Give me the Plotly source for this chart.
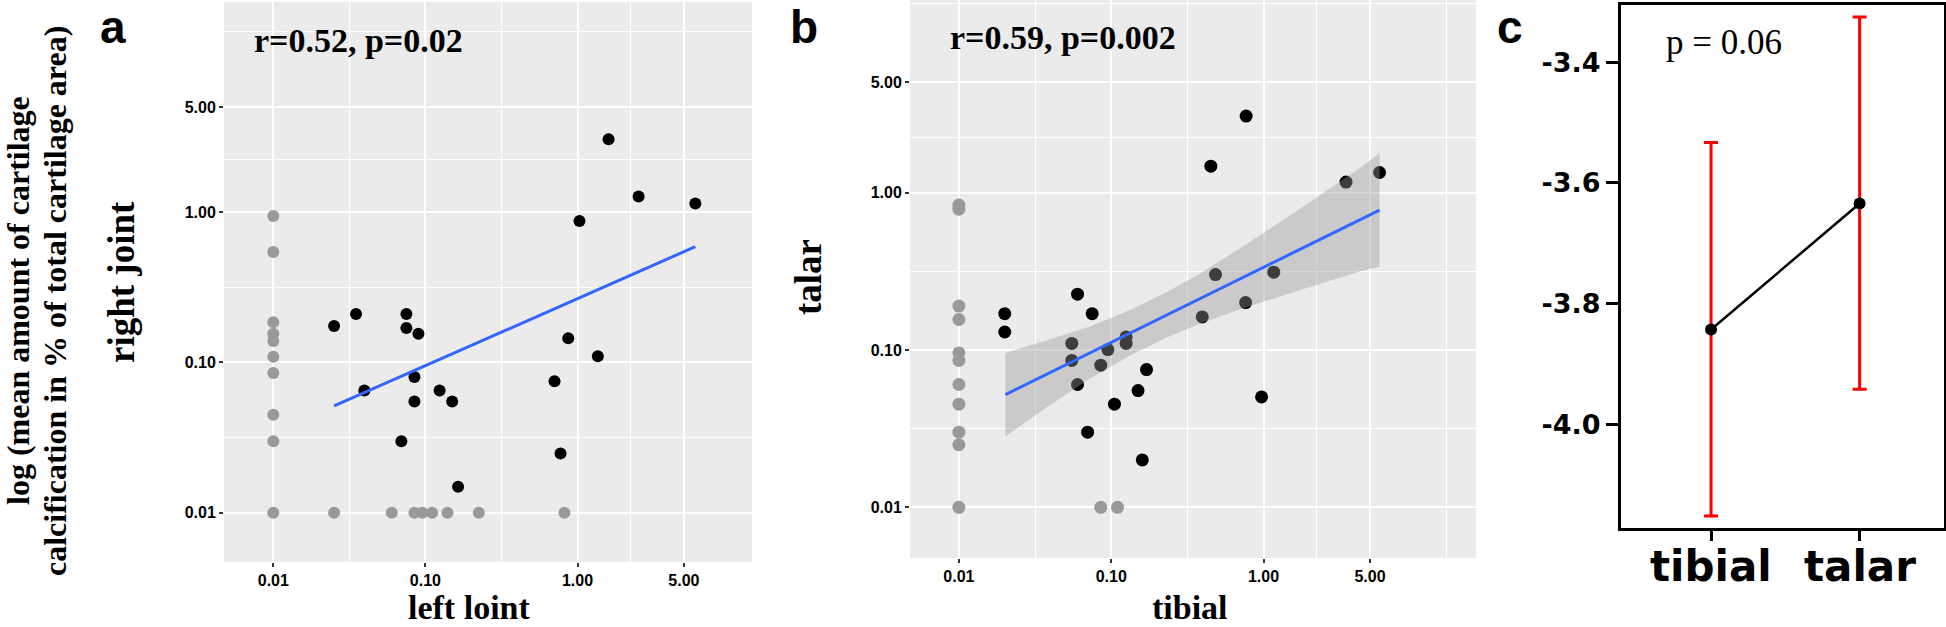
import plotly.graph_objects as go

W, H = 1946, 627

# panel a : left joint vs right joint
a_black_x = [1.60, 2.52, 5.95, 1.03, 0.0251, 0.035, 0.075, 0.075, 0.090, 0.869,
             1.36, 0.0847, 0.0397, 0.124, 0.0847, 0.150, 0.706, 0.0695, 0.773, 0.164]
a_black_y = [3.05, 1.27, 1.14, 0.873, 0.1746, 0.21, 0.21, 0.1695, 0.155, 0.145,
             0.11, 0.080, 0.065, 0.065, 0.055, 0.055, 0.0748, 0.0299, 0.0248, 0.0149]
a_gray_x = [0.01, 0.01, 0.01, 0.01, 0.01, 0.01, 0.01, 0.01, 0.01, 0.01,
            0.0251, 0.0601, 0.0847, 0.0955, 0.1107, 0.1396, 0.2244, 0.82]
a_gray_y = [0.942, 0.543, 0.185, 0.155, 0.139, 0.109, 0.085, 0.0449, 0.0299, 0.01,
            0.01, 0.01, 0.01, 0.01, 0.01, 0.01, 0.01, 0.01]
a_fit_x = [0.0251, 5.95]
a_fit_y = [0.0513, 0.589]

# panel b : tibial vs talar
b_black_x = [0.769, 0.451, 3.48, 5.78, 0.484, 1.167, 0.763, 0.396, 0.0601, 0.075,
             0.020, 0.020, 0.0551, 0.1253, 0.1253, 0.0551, 0.0951, 0.0854, 0.1706,
             0.0601, 0.150, 0.105, 0.971, 0.070, 0.160]
b_black_y = [3.06, 1.47, 1.164, 1.34, 0.301, 0.312, 0.200, 0.162, 0.226, 0.170,
             0.170, 0.130, 0.110, 0.121, 0.110, 0.0857, 0.1005, 0.080, 0.075,
             0.0603, 0.0552, 0.0452, 0.0503, 0.030, 0.020]
b_gray_x = [0.01, 0.01, 0.01, 0.01, 0.01, 0.01, 0.01, 0.01, 0.01, 0.01, 0.01, 0.0854, 0.110]
b_gray_y = [0.832, 0.784, 0.190, 0.156, 0.0957, 0.0857, 0.0603, 0.0452, 0.030, 0.025, 0.01, 0.01, 0.01]
b_fit_x = [0.0202, 5.78]
b_fit_y = [0.052, 0.773]
b_band_x = [0.0202, 0.0378, 0.0726, 0.133, 0.232, 0.384, 0.778, 1.66, 4.32, 5.78]
b_band_hi = [0.0957, 0.115, 0.141, 0.179, 0.233, 0.306, 0.472, 0.766, 1.436, 1.79]
b_band_lo = [0.0282, 0.0433, 0.0658, 0.092, 0.12, 0.147, 0.187, 0.237, 0.316, 0.337]

# panel c : means with error bars
c_cats = ["tibial", "talar"]
c_mean = [-3.843, -3.634]
c_upper = [-3.533, -3.325]
c_lower = [-4.152, -3.942]

log_ticks = [0.01, 0.1, 1, 5]
log_ticktext = ["0.01", "0.10", "1.00", "5.00"]
log_minor = [0.0316, 0.316, 2.236, 15.81]
c_ticks = [-3.4, -3.6, -3.8, -4.0]


def px(x):
    return x / W


def py(y):
    return 1 - y / H


fig = go.Figure()

fig.add_trace(go.Scatter(x=a_gray_x, y=a_gray_y, mode="markers", xaxis="x", yaxis="y",
                         marker=dict(color="#999999", size=12)))
fig.add_trace(go.Scatter(x=a_black_x, y=a_black_y, mode="markers", xaxis="x", yaxis="y",
                         marker=dict(color="black", size=12)))
fig.add_trace(go.Scatter(x=a_fit_x, y=a_fit_y, mode="lines", xaxis="x", yaxis="y",
                         line=dict(color="#3366FF", width=3)))

fig.add_trace(go.Scatter(x=b_gray_x, y=b_gray_y, mode="markers", xaxis="x2", yaxis="y2",
                         marker=dict(color="#999999", size=13)))
fig.add_trace(go.Scatter(x=b_black_x, y=b_black_y, mode="markers", xaxis="x2", yaxis="y2",
                         marker=dict(color="black", size=13)))
fig.add_trace(go.Scatter(x=b_band_x + b_band_x[::-1], y=b_band_hi + b_band_lo[::-1],
                         mode="lines", fill="toself", xaxis="x2", yaxis="y2",
                         fillcolor="rgba(153,153,153,0.4)", line=dict(width=0)))
fig.add_trace(go.Scatter(x=b_fit_x, y=b_fit_y, mode="lines", xaxis="x2", yaxis="y2",
                         line=dict(color="#3366FF", width=3)))

err_plus = [u - m for u, m in zip(c_upper, c_mean)]
err_minus = [m - l for m, l in zip(c_mean, c_lower)]
fig.add_trace(go.Scatter(x=c_cats, y=c_mean, mode="lines+markers", xaxis="x3", yaxis="y3",
                         line=dict(color="black", width=2.5),
                         marker=dict(color="black", size=12),
                         error_y=dict(type="data", symmetric=False, array=err_plus,
                                      arrayminus=err_minus, color="red",
                                      thickness=3, width=7)))

tick_font = dict(family="Liberation Sans", size=16, color="black", weight="bold")


def log_axis(domain, rng, anchor):
    return dict(type="log", domain=domain, range=rng, anchor=anchor,
                tickvals=log_ticks, ticktext=log_ticktext, tickfont=tick_font,
                showgrid=True, gridcolor="white", gridwidth=2,
                minor=dict(tickvals=log_minor, showgrid=True, gridcolor="white",
                           gridwidth=1, ticks=""),
                ticks="outside", ticklen=4, tickwidth=1.5, tickcolor="#333333",
                showline=False, zeroline=False)


layout_axes = dict(
    xaxis=log_axis([px(224), px(752)], [-2.324, 1.147], "y"),
    yaxis=log_axis([py(562), py(2)], [-2.328, 1.398], "x"),
    xaxis2=log_axis([px(910), px(1476)], [-2.321, 1.395], "y2"),
    yaxis2=log_axis([py(558), 1.0], [-2.322, 1.223], "x2"),
    # category labels are drawn as annotations below so they can sit closer to the box
    xaxis3=dict(domain=[px(1621), px(1944)], range=[-0.606, 1.568], anchor="y3",
                type="category", showgrid=False, zeroline=False, showticklabels=False,
                showline=True, mirror=True, linecolor="black", linewidth=3,
                ticks="outside", ticklen=10, tickwidth=3, tickcolor="black"),
    yaxis3=dict(domain=[py(528), py(5)], range=[-4.172, -3.305], anchor="x3",
                tickvals=c_ticks, ticktext=["-3.4", "-3.6", "-3.8", "-4.0"],
                showgrid=False, zeroline=False,
                showline=True, mirror=True, linecolor="black", linewidth=3,
                ticks="outside", ticklen=12, tickwidth=3, tickcolor="black",
                tickfont=dict(family="DejaVu Sans", size=27, color="black", weight="bold")),
)

serif_b = dict(family="Liberation Serif", color="black", weight="bold")
sans_b = dict(family="Liberation Sans", color="black", weight="bold")
dejavu_b = dict(family="DejaVu Sans", color="black", weight="bold")


def note(text, x, y, size, font, angle=0, xref="paper"):
    return dict(text=text, x=px(x) if xref == "paper" else x, y=py(y),
                xref=xref, yref="paper",
                xanchor="center", yanchor="middle", showarrow=False,
                textangle=angle, font=dict(size=size, **font))


annotations = [
    note("a", 113, 27, 46, sans_b),
    note("b", 804, 27, 46, sans_b),
    note("c", 1510, 27, 46, sans_b),
    note("r=0.52, p=0.02", 358, 40, 34, serif_b),
    note("r=0.59, p=0.002", 1063, 38, 34, serif_b),
    note("p = 0.06", 1724, 42, 35, dict(family="Liberation Serif", color="black")),
    note("left loint", 469, 607, 34, serif_b),
    note("tibial", 1190, 607, 34, serif_b),
    note("right joint", 121, 282, 37, serif_b, -90),
    note("talar", 808, 277, 37, serif_b, -90),
    note("log (mean amount of cartilage", 18, 301, 32, serif_b, -90),
    note("calcification in % of total cartilage area)", 55, 301, 32, serif_b, -90),
]
for cat in c_cats:
    annotations.append(note(cat, cat, 566, 42, dejavu_b, xref="x3"))

shapes = [
    dict(type="rect", xref="x domain", yref="y domain", x0=0, x1=1, y0=0, y1=1,
         fillcolor="#EBEBEB", line_width=0, layer="below"),
    dict(type="rect", xref="x2 domain", yref="y2 domain", x0=0, x1=1, y0=0, y1=1,
         fillcolor="#EBEBEB", line_width=0, layer="below"),
]

fig.update_layout(width=W, height=H, margin=dict(l=0, r=0, t=0, b=0),
                  paper_bgcolor="white", plot_bgcolor="white", showlegend=False,
                  annotations=annotations, shapes=shapes, **layout_axes)

# drop the page's default 8px body margin so the figure sits at the window origin
fig.write_html("out.html", config={"displayModeBar": False},
               post_script="document.body.style.margin='0';")
